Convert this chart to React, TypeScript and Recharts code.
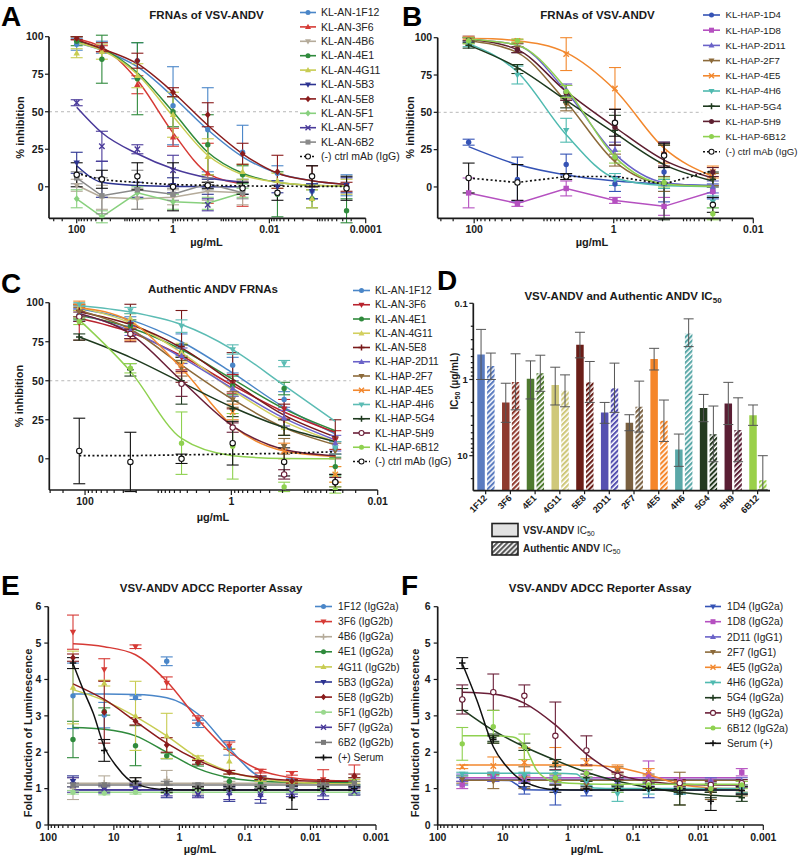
import React from 'react';
import { ComposedChart, Line, XAxis, YAxis, ErrorBar, ReferenceLine, BarChart, Bar, Cell } from 'recharts';

const FONT = '"Liberation Sans", Arial, Helvetica, sans-serif';
const INK = '#1a1a1a';

type Shape = 'circle' | 'open' | 'square' | 'tri' | 'triDown' | 'diamond' | 'x' | 'plus';

// ---------------- Panel A ----------------
const A_CONC = [100, 30, 5.5, 1, 0.19, 0.036, 0.0068, 0.0013, 0.00025];
const A_NAMES = ['KL-AN-1F12', 'KL-AN-3F6', 'KL-AN-4B6', 'KL-AN-4E1', 'KL-AN-4G11', 'KL-AN-5B3', 'KL-AN-5E8', 'KL-AN-5F1', 'KL-AN-5F7', 'KL-AN-6B2', '(-) ctrl mAb (IgG)'];
const A_COLORS = ['#4a86c8', '#d63a35', '#b5ab9a', '#2f8a3c', '#c8cc52', '#2c3391', '#8a1c1c', '#88d07e', '#4a3a9a', '#8a8a8a', '#111111'];
const A_SHAPES: Shape[] = ['circle', 'tri', 'triDown', 'circle', 'tri', 'triDown', 'diamond', 'diamond', 'x', 'square', 'open'];
const A_Y = [
  [95, 93, 84, 54, 38, 23, 9, -3, 1],
  [99, 92, 68, 33, 9, -5],
  [1, -7, -8, -7, -3, -4],
  [97, 85, 72, 50, 28, 8, -5, -8, -16],
  [89, 90, 74, 48, 20, 10, 4, -8, 0],
  [16, 5, -2, 1, 0, -1, 0, -3, 1],
  [99, 93, 84, 63, 48, 22, 10, 7, 0],
  [-8, -20, -4, -10, -11, -4],
  [56, 27, 25, 11, -12],
  [6, -6, -2, -5, 2, -4],
  [8, 5, 7, 0, 1, -1, -4, 7, -1],
];
const A_ERR = [
  [4, 4, 12, 26, 28, 18, 5, 5, 7],
  [1, 2, 6, 6, 20, 8],
  [4, 8, 7, 5, 6, 8],
  [3, 16, 24, 10, 20, 6, 15, 6, 8],
  [3, 5, 8, 15, 12, 5, 5, 6, 5],
  [7, 12, 5, 5, 5, 4, 4, 5, 5],
  [1, 3, 5, 3, 8, 7, 11, 7, 3],
  [6, 4, 4, 5, 4, 3],
  [2, 10, 3, 10, 4],
  [4, 12, 13, 4, 4, 4],
  [8, 6, 9, 16, 2, 4, 5, 7, 8],
];
const A_FIT: (number[] | null)[] = [
  [96, 91, 80, 60, 38, 20, 9, 4, 1.5],
  [98.5, 93, 71, 36, 9, 2],
  null,
  [97, 92, 76, 50, 23, 9, 3, 1, 0.5],
  [96, 91, 75, 47, 21, 8, 3, 1, 0.5],
  [14, 3, 0.8, 0.2, 0.1, 0],
  [98, 92, 82, 63, 41, 22, 9, 4, 1.5],
  null,
  [53, 36, 22, 12, 6, 3],
  null,
  [9, 5, 3, 1.5, 1, 0.6, 0.4, 0.3, 0.2],
];
const A_X_MAJOR = [100, 1, 0.01, 0.0001];
const A_X_LABELS = ['100', '1', '0.01', '0.0001'];

// ---------------- Panel B ----------------
const B_CONC = [120, 24, 4.8, 0.96, 0.19, 0.038];
const B_NAMES = ['KL-HAP-1D4', 'KL-HAP-1D8', 'KL-HAP-2D11', 'KL-HAP-2F7', 'KL-HAP-4E5', 'KL-HAP-4H6', 'KL-HAP-5G4', 'KL-HAP-5H9', 'KL-HAP-6B12', '(-) ctrl mAb (IgG)'];
const B_COLORS = ['#3553b5', '#b550c0', '#6a62c8', '#8c6a3a', '#f2882e', '#4fbab0', '#1e3a1e', '#5e1f30', '#8fd150', '#111111'];
const B_SHAPES: Shape[] = ['circle', 'square', 'tri', 'triDown', 'x', 'triDown', 'plus', 'circle', 'circle', 'open'];
const B_Y = [
  [30, 5, 15, 2, 10, -3],
  [-4, -11, -1, -9, -13, -3],
  [99, 93, 65, 25, 2, 0],
  [98, 93, 55, 18, 2, 5],
  [100, 98, 89, 66, 22, 10],
  [96, 75, 38, 5, 2, -10],
  [95, 79, 57, 38, 3, 5],
  [99, 92, 63, 40, 22, 10],
  [98, 98, 64, 20, 3, -18],
  [6, 3, 7, 43, 21, -12],
];
const B_ERR = [
  [2, 15, 7, 5, 20, 5],
  [10, 2, 5, 2, 6, 4],
  [2, 3, 4, 5, 5, 4],
  [2, 3, 4, 4, 5, 4],
  [1, 1, 11, 14, 6, 4],
  [2, 6, 8, 4, 3, 4],
  [2, 3, 4, 10, 25, 5],
  [1, 2, 5, 12, 8, 3],
  [2, 1, 4, 4, 3, 4],
  [10, 12, 2, 9, 8, 5],
];
const B_FIT: (number[] | null)[] = [
  [27, 15, 8, 4, 2, 1],
  null,
  [99, 95, 64, 22, 3, 0.5],
  [98, 90, 57, 17, 2, 0.3],
  [100, 98, 90, 65, 26, 7],
  [96, 77, 35, 6, 1, 0.3],
  [95, 80, 58, 36, 15, 4],
  [99, 92, 64, 40, 18, 6],
  [99, 95, 66, 20, 2, 0.3],
  [6, 3, 7, 7, 2, 11],
];
const B_X_MAJOR = [100, 1, 0.01];
const B_X_LABELS = ['100', '1', '0.01'];

// ---------------- Panel C ----------------
const C_CONC = [120, 24, 4.8, 0.96, 0.19, 0.038];
const C_NAMES = ['KL-AN-1F12', 'KL-AN-3F6', 'KL-AN-4E1', 'KL-AN-4G11', 'KL-AN-5E8', 'KL-HAP-2D11', 'KL-HAP-2F7', 'KL-HAP-4E5', 'KL-HAP-4H6', 'KL-HAP-5G4', 'KL-HAP-5H9', 'KL-HAP-6B12', '(-) ctrl mAb (IgG)'];
const C_COLORS = ['#4a86c8', '#b8232e', '#2f8a3c', '#d2cf5e', '#7a1a1a', '#6a62c8', '#8c6a3a', '#f2882e', '#5cbcb4', '#1e3a1e', '#6a1f38', '#8fd150', '#111111'];
const C_SHAPES: Shape[] = ['circle', 'triDown', 'circle', 'tri', 'plus', 'tri', 'triDown', 'x', 'triDown', 'plus', 'open', 'circle', 'open'];
const C_Y = [
  [92, 87, 73, 60, 38, 7],
  [87, 80, 65, 48, 32, 12],
  [92, 85, 68, 47, 45, -5],
  [97, 90, 68, 45, 20, -10],
  [95, 87, 72, 50, 25, 14],
  [93, 82, 66, 45, 26, 10],
  [94, 80, 58, 38, 8, 5],
  [100, 80, 60, 30, 5, -10],
  [99, 95, 85, 70, 61, 7],
  [78, 57, 50, 32, 20, -15],
  [91, 80, 48, 20, -10, -15],
  [88, 58, 10, 8, -18, -20],
  [5, -2, 0, 10, -2, -15],
];
const C_ERR = [
  [4, 4, 7, 5, 5, 4],
  [11, 3, 8, 6, 6, 6],
  [3, 4, 5, 6, 4, 6],
  [2, 3, 6, 5, 5, 5],
  [4, 12, 23, 18, 10, 11],
  [3, 3, 5, 5, 5, 5],
  [3, 3, 5, 5, 5, 5],
  [1, 4, 5, 5, 5, 5],
  [1, 2, 4, 3, 2, 4],
  [2, 4, 15, 5, 5, 5],
  [3, 3, 8, 3, 3, 3],
  [2, 3, 20, 21, 3, 2],
  [21, 19, 3, 14, 9, 5],
];
const C_FIT: (number[] | null)[] = [
  [96, 89, 75, 55, 33, 16],
  [90, 81, 66, 47, 30, 17],
  [92, 84, 70, 51, 32, 18],
  [97, 87, 68, 44, 24, 11],
  [94, 86, 71, 49, 28, 14],
  [93, 82, 65, 45, 26, 12],
  [95, 83, 60, 38, 20, 9],
  [97, 88, 58, 21, 5, 1.5],
  [98, 94, 86, 70, 47, 24],
  [78, 65, 49, 33, 20, 11],
  [93, 80, 50, 21, 6, 2],
  [89, 56, 13, 2, 0.2, 0],
  [2, 2, 2.5, 3, 3.5, 4.5],
];

// ---------------- Panel D ----------------
const IC50_AXIS_BOTTOM = 28.8;
const D_CATS = ['1F12', '3F6', '4E1', '4G11', '5E8', '2D11', '2F7', '4E5', '4H6', '5G4', '5H9', '6B12'];
const D_COLORS = ['#5b7cc0', '#8e3a2e', '#4f7a30', '#cfc87a', '#6a1e18', '#5550b0', '#7a6040', '#f5862a', '#5aa8a8', '#243a20', '#5a1e34', '#9ad04a'];
const D_VSV = [0.47, 2.0, 0.98, 1.18, 0.35, 2.72, 3.7, 0.54, 8.3, 2.37, 2.06, 2.95];
const D_VSV_LO = [0.22, 1.12, 0.57, 0.69, 0.24, 2.0, 2.9, 0.39, 5.2, 1.57, 1.09, 2.16];
const D_VSV_HI = [1.0, 3.65, 1.8, 2.16, 0.52, 3.76, 4.7, 0.75, 13.8, 3.58, 3.9, 4.0];
const D_AUTH = [0.665, 1.08, 0.83, 1.41, 1.09, 1.3, 2.28, 3.48, 0.25, 5.25, 4.6, 21];
const D_AUTH_LO = [0.45, 0.46, 0.48, 0.87, 0.58, 0.61, 1.05, 1.86, 0.16, 2.23, 1.74, 10];
const D_AUTH_HI = [1.0, 2.5, 1.43, 2.28, 2.0, 2.7, 4.9, 6.5, 0.37, 12, 12, 28];

// ---------------- Panel E ----------------
const E_CONC = [42, 14, 4.67, 1.56, 0.52, 0.173, 0.0577, 0.0192, 0.0064, 0.00214];
const E_NAMES = ['1F12 (IgG2a)', '3F6 (IgG2b)', '4B6 (IgG2a)', '4E1 (IgG2a)', '4G11 (IgG2b)', '5B3 (IgG2a)', '5E8 (IgG2b)', '5F1 (IgG2b)', '5F7 (IgG2a)', '6B2 (IgG2b)', '(+) Serum'];
const E_COLORS = ['#4a86c8', '#d63a35', '#b5ab9a', '#2f8a3c', '#c8cc52', '#2c3391', '#8a1c1c', '#9ad88e', '#4a3a9a', '#7a7a7a', '#111111'];
const E_SHAPES: Shape[] = ['circle', 'triDown', 'plus', 'circle', 'tri', 'triDown', 'diamond', 'circle', 'x', 'square', 'plus'];
const E_Y = [
  [3.55, 3.02, 3.5, 4.5, 2.78, 2.12, 1.28, 1.22, 1.2, 1.0],
  [5.3, 4.27, 4.9, 3.9, 2.9, 2.18, 1.48, 1.42, 1.25, 1.3],
  [1.0, 1.15, 1.2, 1.25, 0.95, 1.1, 1.05, 1.0, 1.0, 1.1],
  [2.35, 3.12, 2.18, 1.9, 1.7, 1.2, 1.15, 1.1, 1.1, 1.2],
  [3.78, 3.9, 3.0, 2.45, 1.85, 1.75, 1.25, 1.2, 1.2, 1.2],
  [1.2, 0.98, 1.0, 0.85, 0.85, 0.85, 0.8, 0.95, 0.9, 0.95],
  [4.6, 3.1, 2.85, 2.2, 1.72, 1.45, 1.3, 1.2, 1.2, 1.35],
  [0.9, 0.88, 0.9, 0.92, 0.95, 0.95, 0.95, 0.95, 0.95, 0.88],
  [1.1, 1.0, 1.05, 0.9, 0.85, 0.9, 0.85, 0.88, 0.9, 0.92],
  [1.1, 1.1, 1.15, 1.15, 1.1, 1.05, 1.05, 1.05, 1.1, 1.15],
  [4.45, 2.05, 1.2, 0.95, 1.0, 1.0, 1.0, 0.75, 1.0, 1.0],
];
const E_ERR = [
  [0.9, 0.35, 0.05, 0.12, 0.1, 0.2, 0.05, 0.05, 0.05, 0.1],
  [0.47, 0.3, 0.05, 0.17, 0.1, 0.1, 0.05, 0.05, 0.27, 0.35],
  [0.3, 0.2, 0.1, 0.25, 0.1, 0.1, 0.1, 0.1, 0.1, 0.1],
  [0.5, 0.1, 0.55, 0.08, 0.08, 0.1, 0.1, 0.1, 0.1, 0.1],
  [1.0, 0.08, 0.95, 0.62, 0.05, 0.35, 0.05, 0.05, 0.05, 0.05],
  [0.15, 0.1, 0.05, 0.1, 0.05, 0.2, 0.2, 0.1, 0.1, 0.1],
  [0.1, 0.85, 0.1, 0.2, 0.05, 0.05, 0.05, 0.05, 0.05, 0.05],
  [0.05, 0.05, 0.05, 0.05, 0.05, 0.05, 0.05, 0.05, 0.05, 0.05],
  [0.2, 0.1, 0.1, 0.1, 0.1, 0.2, 0.15, 0.1, 0.2, 0.1],
  [0.05, 0.05, 0.05, 0.05, 0.05, 0.05, 0.05, 0.05, 0.05, 0.05],
  [0.15, 0.3, 0.1, 0.05, 0.05, 0.05, 0.05, 0.32, 0.05, 0.05],
];
const E_FIT: (number[] | null)[] = [
  [3.6, 3.6, 3.59, 3.5, 3.05, 2.1, 1.32, 1.17, 1.14, 1.13],
  [4.98, 4.9, 4.68, 3.95, 2.9, 2.02, 1.5, 1.3, 1.23, 1.21],
  [1.15, 1.15, 1.15, 1.15, 1.15, 1.15, 1.15, 1.15, 1.15, 1.15],
  [2.68, 2.63, 2.45, 2.0, 1.55, 1.3, 1.2, 1.17, 1.16, 1.16],
  [3.72, 3.42, 2.98, 2.45, 1.85, 1.47, 1.27, 1.18, 1.14, 1.12],
  [0.96, 0.96, 0.96, 0.96, 0.96, 0.96, 0.96, 0.96, 0.96, 0.96],
  [3.88, 3.45, 2.85, 2.25, 1.78, 1.45, 1.3, 1.22, 1.2, 1.2],
  [0.9, 0.9, 0.9, 0.9, 0.9, 0.9, 0.9, 0.9, 0.9, 0.9],
  [0.97, 0.97, 0.97, 0.97, 0.97, 0.97, 0.97, 0.97, 0.97, 0.97],
  [1.1, 1.1, 1.1, 1.1, 1.1, 1.1, 1.1, 1.1, 1.1, 1.1],
  [4.44, 3.7, 3.07, 2.15, 1.6, 1.13, 0.97, 0.96, 0.96, 0.96, 0.96, 0.96, 0.96],
];
const E_FIT_X: (number[] | null)[] = [
  null, null, null, null, null, null, null, null, null, null,
  [42, 29, 20.6, 14, 9, 4.67, 1.56, 0.52, 0.173, 0.0577, 0.0192, 0.0064, 0.00214],
];
const E_X_MAJOR = [100, 10, 1, 0.1, 0.01, 0.001];
const E_X_LABELS = ['100', '10', '1', '0.1', '0.01', '0.001'];

// ---------------- Panel F ----------------
const F_CONC = [42, 14, 4.67, 1.56, 0.52, 0.173, 0.0577, 0.0192, 0.0064, 0.00214];
const F_NAMES = ['1D4 (IgG2a)', '1D8 (IgG2a)', '2D11 (IgG1)', '2F7 (IgG1)', '4E5 (IgG2a)', '4H6 (IgG2a)', '5G4 (IgG2a)', '5H9 (IgG2a)', '6B12 (IgG2a)', 'Serum (+)'];
const F_COLORS = ['#3553b5', '#b550c0', '#6a62c8', '#8c6a3a', '#f2882e', '#4fbab0', '#1e3a1e', '#6a1f38', '#8fd150', '#111111'];
const F_SHAPES: Shape[] = ['triDown', 'square', 'tri', 'triDown', 'x', 'triDown', 'plus', 'open', 'circle', 'plus'];
const F_Y = [
  [1.2, 1.3, 1.0, 0.9, 0.9, 1.0, 0.95, 0.95, 1.0, 0.95],
  [1.1, 1.35, 1.3, 1.3, 1.42, 1.35, 1.38, 1.2, 1.2, 1.45],
  [1.3, 1.3, 1.25, 1.25, 1.2, 1.2, 1.2, 1.1, 1.2, 1.2],
  [1.25, 1.2, 1.3, 1.2, 1.1, 1.5, 1.2, 1.0, 0.9, 1.0],
  [1.6, 1.62, 1.72, 1.68, 1.72, 1.55, 1.45, 1.1, 1.0, 1.0],
  [1.4, 1.4, 1.35, 1.4, 1.2, 0.85, 0.95, 0.95, 1.0, 1.0],
  [3.45, 2.4, 2.15, 1.7, 1.3, 1.2, 1.05, 0.85, 0.95, 0.75],
  [3.45, 3.65, 3.55, 2.45, 2.05, 1.35, 1.15, 1.15, 1.1, 1.15],
  [2.23, 2.7, 2.15, 1.3, 1.42, 1.0, 1.1, 1.0, 1.0, 1.1],
  [4.45, 2.35, 1.15, 1.0, 1.0, 1.0, 1.0, 0.95, 0.65, 0.95],
];
const F_ERR = [
  [0.1, 0.1, 0.15, 0.35, 0.1, 0.1, 0.2, 0.1, 0.1, 0.1],
  [0.1, 0.1, 0.1, 0.1, 0.1, 0.1, 0.38, 0.1, 0.1, 0.1],
  [0.1, 0.1, 0.1, 0.1, 0.1, 0.1, 0.1, 0.1, 0.1, 0.1],
  [0.1, 0.2, 0.3, 0.1, 0.1, 0.1, 0.2, 0.45, 0.2, 0.2],
  [0.05, 0.25, 0.4, 0.45, 0.1, 0.1, 0.1, 0.1, 0.1, 0.1],
  [0.05, 0.05, 0.1, 0.1, 0.1, 0.2, 0.1, 0.1, 0.1, 0.1],
  [0.3, 0.1, 0.1, 0.1, 0.1, 0.1, 0.1, 0.3, 0.2, 0.1],
  [0.4, 0.5, 0.3, 0.93, 0.4, 0.1, 0.1, 0.1, 0.1, 0.1],
  [0.45, 0.45, 0.35, 0.1, 0.1, 0.1, 0.1, 0.1, 0.1, 0.1],
  [0.15, 0.1, 0.1, 0.1, 0.05, 0.05, 0.05, 0.05, 0.25, 0.1],
];
const F_FIT: (number[] | null)[] = [
  [1.23, 1.23, 1.22, 1.12, 0.97, 0.96, 0.96, 0.96, 0.96, 0.96, 0.96, 0.96],
  [1.3, 1.3, 1.3, 1.3, 1.3, 1.3, 1.3, 1.3, 1.3, 1.3],
  [1.25, 1.25, 1.25, 1.25, 1.25, 1.25, 1.25, 1.25, 1.25, 1.25],
  [1.23, 1.23, 1.23, 1.23, 1.23, 1.23, 1.23, 1.23, 1.23, 1.23],
  [1.65, 1.65, 1.65, 1.65, 1.64, 1.58, 1.38, 1.12, 1.02, 1.0],
  [1.42, 1.42, 1.42, 1.42, 1.4, 1.22, 1.02, 1.0, 1.0, 1.0, 1.0, 1.0],
  [3.18, 2.6, 2.15, 1.78, 1.45, 1.2, 1.03, 0.9, 0.82, 0.78],
  [3.65, 3.6, 3.35, 2.75, 1.95, 1.4, 1.2, 1.12, 1.1, 1.1],
  [2.45, 2.45, 2.42, 2.18, 1.5, 1.24, 1.18, 1.13, 1.12, 1.12, 1.12, 1.12, 1.12],
  [4.44, 3.43, 2.15, 1.5, 1.19, 0.97, 0.96, 0.96, 0.96, 0.96, 0.96, 0.96],
];
const F_FIT_X: (number[] | null)[] = [
  [42, 14, 8, 6.2, 4.67, 1.56, 0.52, 0.173, 0.0577, 0.0192, 0.0064, 0.00214],
  null, null, null, null,
  [42, 14, 4.67, 1.56, 0.75, 0.55, 0.4, 0.173, 0.0577, 0.0192, 0.0064, 0.00214],
  null, null,
  [42, 14, 7, 4.67, 3.0, 2.0, 1.56, 0.52, 0.173, 0.0577, 0.0192, 0.0064, 0.00214],
  [42, 25, 14, 7.7, 4.67, 1.56, 0.52, 0.173, 0.0577, 0.0192, 0.0064, 0.00214],
];

const PCT_TICKS = [0, 25, 50, 75, 100];
const FOLD_TICKS = [0, 1, 2, 3, 4, 5, 6];
const MINOR_MULTS = [2, 3, 4, 5, 6, 7, 8, 9];
const LOG_DECADES = [0.0001, 0.001, 0.01, 0.1, 1, 10, 100];

function logTicks(lo: number, hi: number, decades: number[]) {
  const out: number[] = [];
  decades.forEach((d) => {
    out.push(d);
    MINOR_MULTS.forEach((m) => out.push(+(m * d).toPrecision(6)));
  });
  return Array.from(new Set(out.filter((v) => v >= lo * 0.9999 && v <= hi * 1.0001))).sort((a, b) => a - b);
}

// ---------------- Markers ----------------
function Marker({ cx, cy, shape, color, s = 2.7 }: { cx: number; cy: number; shape: Shape; color: string; s?: number }) {
  if (cx == null || cy == null || isNaN(cx) || isNaN(cy)) return <g />;
  switch (shape) {
    case 'circle':
      return <circle cx={cx} cy={cy} r={s} fill={color} />;
    case 'open':
      return <circle cx={cx} cy={cy} r={s} fill="#fff" stroke={color} strokeWidth={1.1} />;
    case 'square':
      return <rect x={cx - s} y={cy - s} width={2 * s} height={2 * s} fill={color} />;
    case 'tri':
      return <polygon points={`${cx},${cy - s * 1.25} ${cx - s * 1.2},${cy + s * 0.85} ${cx + s * 1.2},${cy + s * 0.85}`} fill={color} />;
    case 'triDown':
      return <polygon points={`${cx},${cy + s * 1.25} ${cx - s * 1.2},${cy - s * 0.85} ${cx + s * 1.2},${cy - s * 0.85}`} fill={color} />;
    case 'diamond':
      return <polygon points={`${cx},${cy - s * 1.3} ${cx + s * 1.1},${cy} ${cx},${cy + s * 1.3} ${cx - s * 1.1},${cy}`} fill={color} />;
    case 'x':
      return <path d={`M${cx - s},${cy - s}L${cx + s},${cy + s}M${cx - s},${cy + s}L${cx + s},${cy - s}`} stroke={color} strokeWidth={1.4} />;
    case 'plus':
      return <path d={`M${cx - s * 1.2},${cy}L${cx + s * 1.2},${cy}M${cx},${cy - s * 1.2}L${cx},${cy + s * 1.2}`} stroke={color} strokeWidth={1.5} />;
    default:
      return <circle cx={cx} cy={cy} r={s} fill={color} />;
  }
}

// ---------------- Ticks ----------------
function makeXTick(majors: number[], labels: string[], fs: number, labelDy: number, majLen = 5, minLen = 3) {
  return (p: any) => {
    const v = p.payload.value;
    const idx = majors.findIndex((m) => Math.abs(Math.log10(m) - Math.log10(v)) < 1e-6);
    const isMaj = idx >= 0;
    return (
      <g>
        <line x1={p.x} x2={p.x} y1={p.y} y2={p.y + (isMaj ? majLen : minLen)} stroke={INK} strokeWidth={1.2} />
        {isMaj && (
          <text x={p.x} y={p.y + labelDy} textAnchor="middle" fontSize={fs} fontWeight="bold" fill={INK} fontFamily={FONT}>
            {labels[idx]}
          </text>
        )}
      </g>
    );
  };
}

function makeYTick(labelFor: (v: number) => string | null, fs: number, majLen = 4, minLen = 2.5, gap = 1.5) {
  return (p: any) => {
    const v = p.payload.value;
    const lab = labelFor(v);
    return (
      <g>
        <line x1={p.x - (lab != null ? majLen : minLen)} x2={p.x} y1={p.y} y2={p.y} stroke={INK} strokeWidth={1.2} />
        {lab != null && (
          <text x={p.x - majLen - gap} y={p.y} dy="0.36em" textAnchor="end" fontSize={fs} fontWeight="bold" fill={INK} fontFamily={FONT}>
            {lab}
          </text>
        )}
      </g>
    );
  };
}

// ---------------- Dose-response chart ----------------
interface DoseProps {
  width: number;
  height: number;
  margin: { top: number; right: number; left: number; bottom: number };
  yAxisWidth: number;
  xAxisHeight: number;
  conc: number[];
  names: string[];
  colors: string[];
  shapes: Shape[];
  ys: number[][];
  errs: number[][];
  fits: (number[] | null)[];
  fitXs?: (number[] | null)[];
  dottedIdx?: number;
  linearFit?: number[];
  xDomain: [number, number];
  xMajors: number[];
  xLabels: string[];
  xLabelDy: number;
  yDomain: [number, number];
  yTicks: number[];
  yLabelGap?: number;
  refEnd?: number;
}

function DoseChart(props: DoseProps) {
  const { width, height, margin, yAxisWidth, xAxisHeight, conc, names, colors, shapes, ys, errs, fits, fitXs, dottedIdx, linearFit, xDomain, xMajors, xLabels, xLabelDy, yDomain, yTicks, yLabelGap, refEnd } = props;
  const xTicks = logTicks(xDomain[0], xDomain[1], LOG_DECADES);
  const items: React.ReactElement[] = [];
  names.forEach((name, i) => {
    const y = ys[i];
    const fit = fits[i];
    const fx = (fitXs && fitXs[i]) || conc;
    const curveData = fit ? fit.map((v, k) => ({ x: fx[k], v })) : y.map((v, k) => ({ x: conc[k], v }));
    const ptData = y.map((v, k) => ({ x: conc[k], y: v, e: errs[i][k] }));
    const color = colors[i];
    const dotted = dottedIdx === i;
    const isLinear = !fit || (linearFit || []).includes(i);
    items.push(
      <Line
        key={`c${i}`}
        data={curveData}
        dataKey="v"
        name={`${name} curve`}
        type={isLinear ? 'linear' : 'monotone'}
        stroke={color}
        strokeWidth={dotted ? 1.7 : 1.5}
        strokeDasharray={dotted ? '2 2.4' : undefined}
        dot={false}
        activeDot={false}
        isAnimationActive={false}
        legendType="none"
      />
    );
    items.push(
      <Line
        key={`p${i}`}
        data={ptData}
        dataKey="y"
        name={name}
        stroke="none"
        strokeWidth={0}
        dot={(p: any) => <Marker key={`m${i}-${p.index}`} cx={p.cx} cy={p.cy} shape={shapes[i]} color={color} />}
        activeDot={false}
        isAnimationActive={false}
        legendType="none"
      >
        <ErrorBar dataKey="e" width={6} stroke={color} strokeWidth={1.1} direction="y" />
      </Line>
    );
  });
  return (
    <ComposedChart width={width} height={height} margin={margin}>
      <XAxis
        type="number"
        dataKey="x"
        scale="log"
        domain={xDomain}
        reversed
        allowDataOverflow
        ticks={xTicks}
        interval={0}
        tickLine={false}
        tickSize={0}
        tickMargin={0}
        tick={makeXTick(xMajors, xLabels, 10.5, xLabelDy)}
        axisLine={{ stroke: INK, strokeWidth: 1.7 }}
        height={xAxisHeight}
      />
      <YAxis
        type="number"
        domain={yDomain}
        allowDataOverflow
        ticks={yTicks}
        interval={0}
        tickLine={false}
        tickSize={0}
        tickMargin={0}
        tick={makeYTick((v) => String(v), 10.5, 4, 2.5, yLabelGap ?? 1.5)}
        axisLine={{ stroke: INK, strokeWidth: 1.7 }}
        width={yAxisWidth}
      />
      {refEnd != null && (
        <ReferenceLine
          segment={[{ x: xDomain[1], y: 50 }, { x: refEnd, y: 50 }]}
          stroke="#b8b8b8"
          strokeWidth={1}
          strokeDasharray="3 3"
          ifOverflow="visible"
        />
      )}
      {items}
    </ComposedChart>
  );
}

// ---------------- Legend (SVG) ----------------
function LegendSvg({ x0, x1, tx, cy0, dy, names, colors, shapes, dottedIdx, fs = 10.5 }: any) {
  return (
    <g>
      {names.map((n: string, i: number) => {
        const cy = cy0 + i * dy;
        const c = colors[i];
        return (
          <g key={i}>
            <line x1={x0} x2={x1} y1={cy} y2={cy} stroke={c} strokeWidth={1.6} strokeDasharray={i === dottedIdx ? '2 2' : undefined} />
            <Marker cx={(x0 + x1) / 2} cy={cy} shape={shapes[i]} color={c} s={2.5} />
            <text x={tx} y={cy} dy="0.36em" fontSize={fs} fill="#222" fontFamily={FONT}>
              {n}
            </text>
          </g>
        );
      })}
    </g>
  );
}

// ---------------- IC50 bar chart ----------------
function IC50Chart() {
  const rows = D_CATS.map((name, i) => ({
    name,
    vsv: D_VSV[i],
    vsvErr: [D_VSV[i] - D_VSV_LO[i], D_VSV_HI[i] - D_VSV[i]],
    auth: D_AUTH[i],
    authErr: [D_AUTH[i] - D_AUTH_LO[i], D_AUTH_HI[i] - D_AUTH[i]],
  }));
  const yTicks = logTicks(0.1, IC50_AXIS_BOTTOM, [0.1, 1, 10]);
  const catTick = (p: any) => (
    <g>
      <line x1={p.x} x2={p.x} y1={p.y} y2={p.y + 3.5} stroke={INK} strokeWidth={1.2} />
      <text x={p.x + 2} y={p.y + 8} textAnchor="end" fontSize={9} fontWeight="bold" fill={INK} fontFamily={FONT} transform={`rotate(-45 ${p.x + 2} ${p.y + 8})`}>
        {p.payload.value}
      </text>
    </g>
  );
  const yLab = (v: number) => (Math.abs(v - 0.1) < 1e-9 ? '0.1' : Math.abs(v - 1) < 1e-9 ? '1' : Math.abs(v - 10) < 1e-9 ? '10' : null);
  return (
    <BarChart width={398} height={240} data={rows} margin={{ top: 23.3, right: 28, left: 0, bottom: 0 }} barSize={7.5} barGap={2.3}>
      <defs>
        {D_COLORS.map((c, i) => (
          <pattern key={i} id={`hatch${i}`} patternUnits="userSpaceOnUse" width={3.6} height={3.6} patternTransform="rotate(45)">
            <rect width={3.6} height={3.6} fill="#ffffff" />
            <rect width={2.1} height={3.6} fill={c} />
          </pattern>
        ))}
      </defs>
      <XAxis
        dataKey="name"
        type="category"
        interval={0}
        tickLine={false}
        tickSize={0}
        tickMargin={0}
        tick={catTick}
        axisLine={{ stroke: INK, strokeWidth: 1.7 }}
        height={29.3}
      />
      <YAxis
        type="number"
        scale="log"
        domain={[0.1, IC50_AXIS_BOTTOM]}
        reversed
        allowDataOverflow
        ticks={yTicks}
        interval={0}
        tickLine={false}
        tickSize={0}
        tickMargin={0}
        tick={makeYTick(yLab, 9.5, 4, 2.5)}
        axisLine={{ stroke: INK, strokeWidth: 1.7 }}
        width={73.3}
      />
      <Bar dataKey={(d: any) => [IC50_AXIS_BOTTOM, d.vsv]} name="VSV-ANDV IC50" isAnimationActive={false}>
        {rows.map((r, i) => (
          <Cell key={r.name} fill={D_COLORS[i]} />
        ))}
        <ErrorBar dataKey="vsvErr" width={5} stroke="#555" strokeWidth={1} direction="y" />
      </Bar>
      <Bar dataKey={(d: any) => [IC50_AXIS_BOTTOM, d.auth]} name="Authentic ANDV IC50" isAnimationActive={false}>
        {rows.map((r, i) => (
          <Cell key={r.name} fill={`url(#hatch${i})`} />
        ))}
        <ErrorBar dataKey="authErr" width={5} stroke="#555" strokeWidth={1} direction="y" />
      </Bar>
    </BarChart>
  );
}

// ---------------- App ----------------
const abs = (left: number, top: number): React.CSSProperties => ({ position: 'absolute', left, top });

export default function App() {
  const title = { fontSize: 11.5, fontWeight: 'bold' as const, fill: INK, fontFamily: FONT, textAnchor: 'middle' as const };
  const axTitle = { fontSize: 11, fontWeight: 'bold' as const, fill: INK, fontFamily: FONT, textAnchor: 'middle' as const };
  const letter = { fontSize: 28, fontWeight: 'bold' as const, fill: '#000', fontFamily: FONT };
  return (
    <div style={{ position: 'absolute', left: 0, top: 0, width: 798, height: 856, background: '#fff', fontFamily: FONT, overflow: 'hidden' }}>
      <div style={abs(0, 0)}>
        <DoseChart
          width={400} height={260} margin={{ top: 36.7, right: 34.3, left: 0, bottom: 0 }}
          yAxisWidth={49} xAxisHeight={41.7}
          conc={A_CONC} names={A_NAMES} colors={A_COLORS} shapes={A_SHAPES}
          ys={A_Y} errs={A_ERR} fits={A_FIT} dottedIdx={10}
          xDomain={[0.0001, 376]} xMajors={A_X_MAJOR} xLabels={A_X_LABELS} xLabelDy={15}
          yDomain={[-21, 100]} yTicks={PCT_TICKS} refEnd={0.0022}
        />
      </div>
      <div style={abs(400, 0)}>
        <DoseChart
          width={398} height={260} margin={{ top: 37.7, right: 44.7, left: 0, bottom: 0 }}
          yAxisWidth={37.7} xAxisHeight={41.7}
          conc={B_CONC} names={B_NAMES} colors={B_COLORS} shapes={B_SHAPES}
          ys={B_Y} errs={B_ERR} fits={B_FIT} dottedIdx={9} linearFit={[9]}
          xDomain={[0.01, 333]} xMajors={B_X_MAJOR} xLabels={B_X_LABELS} xLabelDy={15}
          yDomain={[-21, 100]} yTicks={PCT_TICKS} refEnd={0.054}
        />
      </div>
      <div style={abs(0, 280)}>
        <DoseChart
          width={400} height={250} margin={{ top: 22.7, right: 22.3, left: 0, bottom: 0 }}
          yAxisWidth={49.3} xAxisHeight={40}
          conc={C_CONC} names={C_NAMES} colors={C_COLORS} shapes={C_SHAPES}
          ys={C_Y} errs={C_ERR} fits={C_FIT} dottedIdx={12} linearFit={[12]}
          xDomain={[0.01, 308]} xMajors={B_X_MAJOR} xLabels={B_X_LABELS} xLabelDy={15}
          yDomain={[-20, 100]} yTicks={PCT_TICKS} refEnd={0.0234}
        />
      </div>
      <div style={abs(400, 280)}>
        <IC50Chart />
      </div>
      <div style={abs(0, 560)}>
        <DoseChart
          width={400} height={296} margin={{ top: 46.7, right: 24, left: 0, bottom: 0 }}
          yAxisWidth={48.3} xAxisHeight={31}
          conc={E_CONC} names={E_NAMES} colors={E_COLORS} shapes={E_SHAPES}
          ys={E_Y} errs={E_ERR} fits={E_FIT} fitXs={E_FIT_X}
          xDomain={[0.001, 100]} xMajors={E_X_MAJOR} xLabels={E_X_LABELS} xLabelDy={15.5}
          yDomain={[0, 6]} yTicks={FOLD_TICKS} yLabelGap={3}
        />
      </div>
      <div style={abs(400, 560)}>
        <DoseChart
          width={398} height={296} margin={{ top: 46.7, right: 34.7, left: 0, bottom: 0 }}
          yAxisWidth={37.7} xAxisHeight={31}
          conc={F_CONC} names={F_NAMES} colors={F_COLORS} shapes={F_SHAPES}
          ys={F_Y} errs={F_ERR} fits={F_FIT} fitXs={F_FIT_X}
          xDomain={[0.001, 100]} xMajors={E_X_MAJOR} xLabels={E_X_LABELS} xLabelDy={15.5}
          yDomain={[0, 6]} yTicks={FOLD_TICKS} yLabelGap={3}
        />
      </div>

      <svg width={798} height={856} style={{ position: 'absolute', left: 0, top: 0, pointerEvents: 'none' }}>
        <defs>
          <pattern id="legendHatch" patternUnits="userSpaceOnUse" width={3.6} height={3.6} patternTransform="rotate(45)">
            <rect width={3.6} height={3.6} fill="#ffffff" />
            <rect width={2.1} height={3.6} fill="#555" />
          </pattern>
        </defs>
        {/* panel letters */}
        <text x={1} y={25.5} {...letter}>A</text>
        <text x={402} y={25.5} {...letter}>B</text>
        <text x={1} y={293} {...letter}>C</text>
        <text x={437} y={290} {...letter}>D</text>
        <text x={1} y={595} {...letter}>E</text>
        <text x={401} y={595} {...letter}>F</text>

        {/* titles */}
        <text x={206.5} y={19} {...title}>FRNAs of VSV-ANDV</text>
        <text x={597.5} y={19} {...title}>FRNAs of VSV-ANDV</text>
        <text x={213} y={293} {...title}>Authentic ANDV FRNAs</text>
        <text x={623} y={300} {...title}>
          VSV-ANDV and Authentic ANDV IC<tspan fontSize={8} dy={2.5}>50</tspan>
        </text>
        <text x={211} y={592} {...title}>VSV-ANDV ADCC Reporter Assay</text>
        <text x={600} y={592} {...title}>VSV-ANDV ADCC Reporter Assay</text>

        {/* axis titles */}
        <text x={206.5} y={246} {...axTitle}>µg/mL</text>
        <text transform="translate(20 127.5) rotate(-90)" dy="0.35em" {...axTitle}>% inhibition</text>
        <text x={592} y={246} {...axTitle}>µg/mL</text>
        <text transform="translate(410 127.5) rotate(-90)" dy="0.35em" {...axTitle}>% inhibition</text>
        <text x={213} y={521} {...axTitle}>µg/mL</text>
        <text transform="translate(19 396) rotate(-90)" dy="0.35em" {...axTitle}>% inhibition</text>
        <text transform="translate(454 381) rotate(-90)" dy="0.35em" {...axTitle} fontSize={10}>
          IC<tspan fontSize={7} dy={2}>50</tspan><tspan dy={-2}> (µg/mL)</tspan>
        </text>
        <text x={200} y={853} {...axTitle}>µg/mL</text>
        <text transform="translate(28 733) rotate(-90)" dy="0.35em" {...axTitle}>Fold Induction of Luminescence</text>
        <text x={587} y={853} {...axTitle}>µg/mL</text>
        <text transform="translate(415 733) rotate(-90)" dy="0.35em" {...axTitle}>Fold Induction of Luminescence</text>

        {/* legends */}
        <LegendSvg x0={300} x1={316} tx={321} cy0={12.5} dy={14.4} names={A_NAMES} colors={A_COLORS} shapes={A_SHAPES} dottedIdx={10} />
        <LegendSvg x0={703} x1={720} tx={725.5} cy0={15} dy={15.2} names={B_NAMES} colors={B_COLORS} shapes={B_SHAPES} dottedIdx={9} fs={9.6} />
        <LegendSvg x0={353} x1={370} tx={375} cy0={290.5} dy={14.25} names={C_NAMES} colors={C_COLORS} shapes={C_SHAPES} dottedIdx={12} fs={10.2} />
        <LegendSvg x0={315} x1={332} tx={338} cy0={606.5} dy={15.1} names={E_NAMES} colors={E_COLORS} shapes={E_SHAPES} fs={10.2} />
        <LegendSvg x0={705} x1={721} tx={727} cy0={606.5} dy={15.2} names={F_NAMES} colors={F_COLORS} shapes={F_SHAPES} fs={10.2} />

        {/* IC50 legend */}
        <rect x={492} y={523.5} width={26} height={13} fill="#e2e2e2" stroke="#222" strokeWidth={1.6} />
        <text x={523} y={533.5} fontSize={10} fill="#222" fontFamily={FONT}>
          <tspan fontWeight="bold">VSV-ANDV</tspan> IC<tspan fontSize={7} dy={2}>50</tspan>
        </text>
        <rect x={492} y={542} width={26} height={13} fill="url(#legendHatch)" stroke="#222" strokeWidth={1.6} />
        <text x={523} y={552} fontSize={10} fill="#222" fontFamily={FONT}>
          <tspan fontWeight="bold">Authentic ANDV</tspan> IC<tspan fontSize={7} dy={2}>50</tspan>
        </text>
      </svg>
    </div>
  );
}
